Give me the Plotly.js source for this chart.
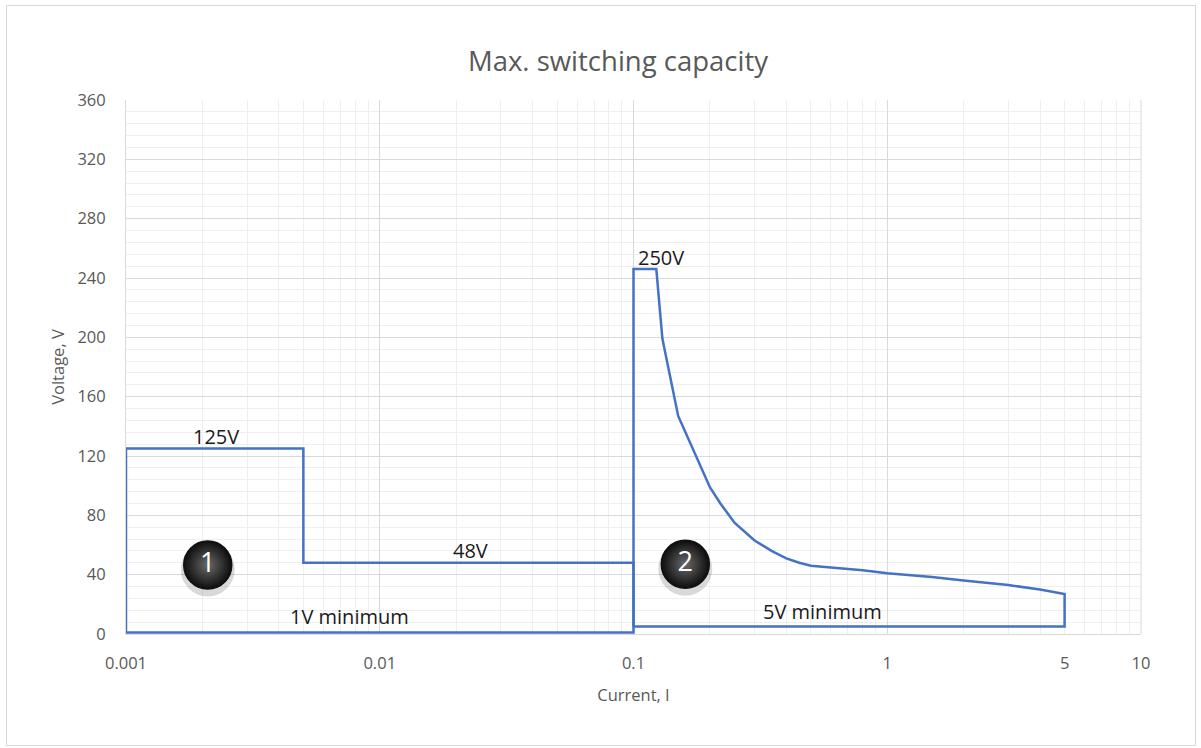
<!DOCTYPE html>
<html>
<head>
<meta charset="utf-8">
<script src="https://cdn.plot.ly/plotly-3.0.1.min.js"></script>
<style>
  html, body { margin: 0; padding: 0; background: #fff; }
  #wrap { position: relative; width: 1201px; height: 748px; }
  #chart { position: absolute; left: 0; top: 0; width: 1201px; height: 748px; }
  #frame { position: absolute; left: 6px; top: 5px; width: 1188px; height: 739px; border: 1px solid #d9d9d9; pointer-events: none; }
</style>
</head>
<body>
<div id="wrap"><div id="chart"></div><div id="frame"></div></div>
<script>
// ---- data ----
const region1Current = [0.001, 0.001, 0.005, 0.005, 0.1, 0.1, 0.001];
const region1Voltage = [1, 125, 125, 48, 48, 1, 1];

const region2Current = [0.1, 0.1, 0.123, 0.13, 0.15, 0.175, 0.2, 0.22, 0.25, 0.3, 0.35, 0.4, 0.45, 0.5, 0.6, 0.8, 1, 1.5, 2, 3, 4, 5, 5, 0.1];
const region2Voltage = [5, 246, 246, 199, 147, 121, 99, 88, 75, 63, 56, 51, 48, 46, 45, 43, 41, 38.5, 36, 33, 30, 27, 5, 5];

const xTickVals = [0.001, 0.01, 0.1, 1, 5, 10];
const xTickText = ['0.001', '0.01', '0.1', '1', '5', '10'];
const xMinorVals = [];
[0.001, 0.01, 0.1, 1].forEach(d => { for (let k = 2; k <= 9; k++) { const v = +(d * k).toPrecision(3); if (xTickVals.indexOf(v) < 0) xMinorVals.push(v); } });
const xMajorVals = [0.001, 0.01, 0.1, 1, 10];

const badgeLabels = ['1', '2'];
const badgeCurrent = [0.0021, 0.16];
const badgeVoltage = [46.5, 47];

const noteTexts = ['125V', '48V', '1V minimum', '250V', '5V minimum'];
const noteCurrent = [0.00226, 0.0227, 0.00763, 0.1278, 0.5555];
const noteVoltage = [133, 56, 11.5, 254, 15.5];

// ---- styles ----
const lineColor = '#4472C4';
const axisFont = { family: 'Open Sans, sans-serif', size: 16.5, color: '#595959' };

const traces = [
  {
    x: region1Current, y: region1Voltage, type: 'scatter', mode: 'lines',
    line: { color: lineColor, width: 2.5 }, hoverinfo: 'skip', xaxis: 'x', yaxis: 'y'
  },
  {
    x: region2Current, y: region2Voltage, type: 'scatter', mode: 'lines',
    line: { color: lineColor, width: 2.5 }, hoverinfo: 'skip', xaxis: 'x', yaxis: 'y'
  },
  {
    // badge shadow
    x: badgeCurrent, y: badgeVoltage.map(v => v - 3), type: 'scatter', mode: 'markers',
    marker: { size: 54, color: 'rgba(0,0,0,0.15)', line: { width: 0 } },
    hoverinfo: 'skip', xaxis: 'x', yaxis: 'y'
  },
  {
    x: badgeCurrent, y: badgeVoltage, type: 'scatter', mode: 'markers+text',
    text: badgeLabels, textposition: 'middle center',
    textfont: { family: 'Open Sans, sans-serif', size: 27, color: '#ffffff' },
    marker: { size: 48, color: '#0d0d0d', gradient: { type: 'radial', color: '#6a6a6a' }, line: { color: '#111', width: 1.5 } },
    hoverinfo: 'skip', xaxis: 'x', yaxis: 'y'
  },
  {
    // carrier for the overlay axis holding the major vertical gridlines
    x: [0.001], y: [0], type: 'scatter', mode: 'markers', marker: { size: 0.1, opacity: 0 },
    hoverinfo: 'skip', xaxis: 'x2', yaxis: 'y'
  }
];

const annotations = noteTexts.map((t, i) => ({
  text: t, x: Math.log10(noteCurrent[i]), y: noteVoltage[i], xref: 'x', yref: 'y',
  showarrow: false, xanchor: 'center', yanchor: 'middle',
  font: { family: 'Open Sans, sans-serif', size: 20, color: '#1a1a1a' }
}));

const layout = {
  width: 1201, height: 748,
  margin: { l: 126, r: 60, t: 100, b: 114 },
  paper_bgcolor: '#ffffff', plot_bgcolor: '#ffffff',
  showlegend: false,
  title: {
    text: 'Max. switching capacity',
    font: { family: 'Open Sans, sans-serif', size: 27.5, color: '#595959' },
    x: 0.4847, xref: 'paper', xanchor: 'center',
    y: 0.918, yref: 'container', yanchor: 'middle'
  },
  xaxis: {
    type: 'log', range: [-3, 1],
    tickmode: 'array', tickvals: xMinorVals.concat(xTickVals), ticktext: xMinorVals.map(() => '').concat(xTickText),
    showgrid: true, gridcolor: '#efefef', gridwidth: 1,
    zeroline: false, showline: true, linecolor: '#d9d9d9', linewidth: 1,
    ticks: '', ticklabelstandoff: 14,
    tickfont: axisFont,
    title: { text: 'Current, I', font: axisFont, standoff: 16 },
    fixedrange: true
  },
  xaxis2: {
    type: 'log', range: [-3, 1], overlaying: 'x',
    tickmode: 'array', tickvals: xMajorVals, showticklabels: false,
    showgrid: true, gridcolor: '#d9d9d9', gridwidth: 1,
    zeroline: false, showline: false, ticks: '', fixedrange: true
  },
  yaxis: {
    range: [0, 360], dtick: 40, tick0: 0,
    showgrid: true, gridcolor: '#d9d9d9', gridwidth: 1,
    minor: { dtick: 8, showgrid: true, gridcolor: '#efefef', gridwidth: 1, ticks: '' },
    zeroline: false, showline: true, linecolor: '#d9d9d9', mirror: false,
    ticks: '', ticklabelstandoff: 16,
    tickfont: axisFont,
    title: { text: 'Voltage, V', font: axisFont, standoff: 8 },
    fixedrange: true
  },
  shapes: [
    { type: 'line', xref: 'paper', yref: 'paper', x0: 1, x1: 1, y0: 0, y1: 1, line: { color: '#d9d9d9', width: 1 } }
  ],
  annotations: annotations
};

Plotly.newPlot('chart', traces, layout, { displayModeBar: false, staticPlot: true });
</script>
</body>
</html>
